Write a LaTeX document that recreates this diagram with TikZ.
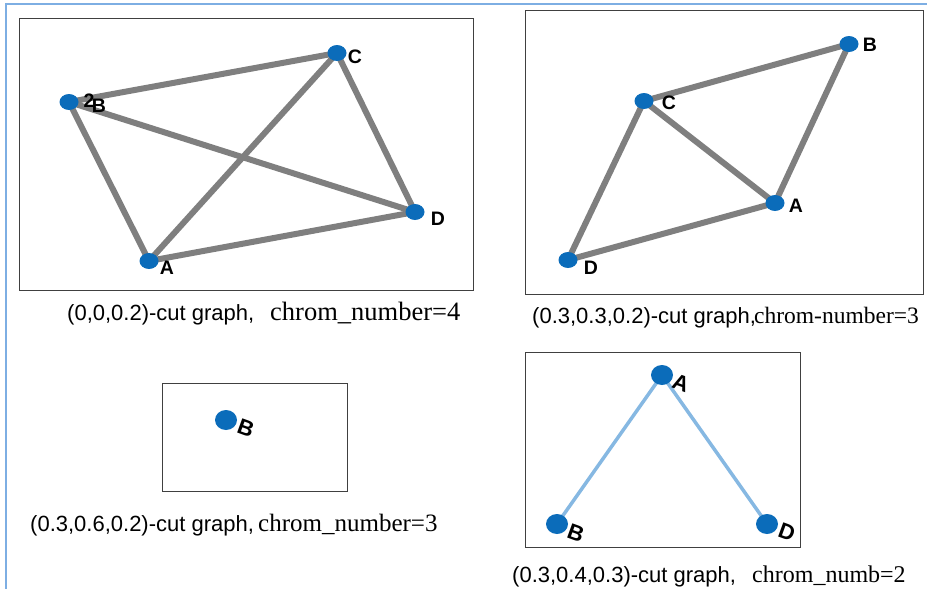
\documentclass[tikz,border=0pt]{standalone}
\usepackage{fontspec}
\setmainfont{Liberation Serif}
\setsansfont{Liberation Sans}
\usetikzlibrary{shapes.geometric}
\definecolor{vblue}{HTML}{0B6CBA}
\definecolor{egray}{HTML}{7F7F7F}
\definecolor{elblue}{HTML}{86B8E2}
\definecolor{frameblue}{HTML}{7DAEE3}
\tikzset{
  vtx/.style={ellipse, fill=vblue, minimum width=19pt, minimum height=16pt, inner sep=0pt},
  bigvtx/.style={ellipse, fill=vblue, minimum width=22pt, minimum height=20pt, inner sep=0pt},
  lbl/.style={font=\fontsize{19.5}{19.5}\selectfont\sffamily\bfseries, inner sep=0pt},
  tlbl/.style={font=\fontsize{22}{22}\selectfont\sffamily\bfseries, inner sep=0pt, rotate=-20},
  gedge/.style={draw=egray, line width=6pt},
  bedge/.style={draw=elblue, line width=3.5pt},
  panel/.style={draw=black!75, line width=1pt},
  capsans/.style={font=\fontsize{22}{22}\selectfont\sffamily, inner sep=0pt, anchor=base west},
  capserif/.style={font=\fontsize{25}{25}\selectfont\rmfamily, inner sep=0pt, anchor=base west}
}
\begin{document}
\begin{tikzpicture}[x=1pt,y=-1pt]
\useasboundingbox (0,0) rectangle (927,589);
% outer frame
\draw[frameblue, line width=2pt] (6,589) -- (6,4) -- (927,4);
% panels
\draw[panel] (19,18) rectangle (473,290);
\draw[panel] (525,10) rectangle (923,294);
\draw[panel] (162,383) rectangle (347,491);
\draw[panel] (525,352) rectangle (800,547);
% panel 1
\coordinate (p1B) at (69,102);
\coordinate (p1C) at (337,53);
\coordinate (p1D) at (415,212);
\coordinate (p1A) at (149,261);
\draw[gedge] (p1B) -- (p1C);
\draw[gedge] (p1B) -- (p1A);
\draw[gedge] (p1B) -- (p1D);
\draw[gedge] (p1A) -- (p1C);
\draw[gedge] (p1A) -- (p1D);
\draw[gedge] (p1C) -- (p1D);
\node[vtx] (n1B) at (p1B) {};
\node[vtx] (n1C) at (p1C) {};
\node[vtx] (n1D) at (p1D) {};
\node[vtx] (n1A) at (p1A) {};
\node[lbl] (l1two) at (89,101) {2};
\node[lbl] (l1B) at (99,106) {B};
\node[lbl] (l1C) at (355,57) {C};
\node[lbl] (l1D) at (438,219) {D};
\node[lbl] (l1A) at (167,268) {A};
% panel 2
\coordinate (p2B) at (849,44);
\coordinate (p2C) at (644,101);
\coordinate (p2A) at (775,203);
\coordinate (p2D) at (568,260);
\draw[gedge] (p2C) -- (p2B);
\draw[gedge] (p2C) -- (p2A);
\draw[gedge] (p2A) -- (p2B);
\draw[gedge] (p2C) -- (p2D);
\draw[gedge] (p2D) -- (p2A);
\node[vtx] (n2B) at (p2B) {};
\node[vtx] (n2C) at (p2C) {};
\node[vtx] (n2A) at (p2A) {};
\node[vtx] (n2D) at (p2D) {};
\node[lbl] (l2B) at (870,45) {B};
\node[lbl] (l2C) at (669,103) {C};
\node[lbl] (l2A) at (796,206) {A};
\node[lbl] (l2D) at (591,268) {D};
% panel 3
\node[bigvtx] (n3B) at (226,420) {};
\node[tlbl] (l3B) at (246,428) {B};
% panel 4
\coordinate (p4A) at (662,375);
\coordinate (p4B) at (557,524);
\coordinate (p4D) at (767,524);
\draw[bedge] (p4A) -- (p4B);
\draw[bedge] (p4A) -- (p4D);
\node[bigvtx] (n4A) at (p4A) {};
\node[bigvtx] (n4B) at (p4B) {};
\node[bigvtx] (n4D) at (p4D) {};
\node[tlbl] (l4A) at (681,383) {A};
\node[tlbl] (l4B) at (576,533) {B};
\node[tlbl] (l4D) at (787,532) {D};
% captions
\node[capsans] (c1a) at (67,320) {(0,0,0.2)-cut graph,};
\node[capserif, font=\fontsize{26.5}{26.5}\selectfont\rmfamily] (c1b) at (270,320) {chrom\_number=4};
\node[capsans] (c2a) at (532,323) {(0.3,0.3,0.2)-cut graph,};
\node[capserif, font=\fontsize{23.5}{23.5}\selectfont\rmfamily] (c2b) at (754,323) {chrom-number=3};
\node[capsans] (c3a) at (30,531) {(0.3,0.6,0.2)-cut graph,};
\node[capserif] (c3b) at (258,531) {chrom\_number=3};
\node[capsans] (c4a) at (512,582) {(0.3,0.4,0.3)-cut graph,};
\node[capserif, font=\fontsize{24}{24}\selectfont\rmfamily] (c4b) at (752,582) {chrom\_numb=2};
\end{tikzpicture}
\end{document}
